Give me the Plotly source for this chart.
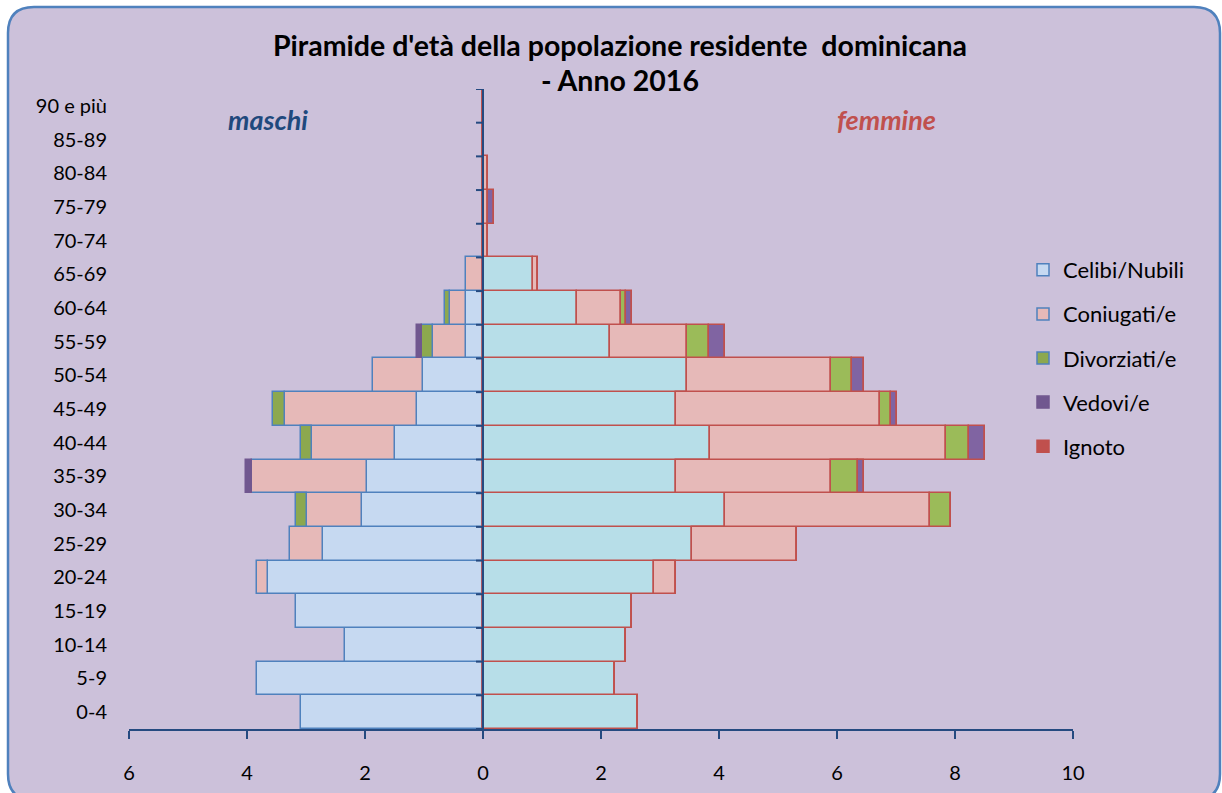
import plotly.graph_objects as go

categories = ["0-4", "5-9", "10-14", "15-19", "20-24", "25-29", "30-34", "35-39",
              "40-44", "45-49", "50-54", "55-59", "60-64", "65-69", "70-74",
              "75-79", "80-84", "85-89", "90 e più"]

# maschi (percent)
m_celibi     = [3.08, 3.83, 2.34, 3.17, 3.65, 2.71, 2.05, 1.97, 1.50, 1.12, 1.02, 0.28, 0.28, 0.00, 0, 0, 0, 0, 0]
m_coniugati  = [0, 0, 0, 0, 0.18, 0.56, 0.94, 1.95, 1.40, 2.24, 0.85, 0.56, 0.28, 0.28, 0, 0, 0, 0, 0]
m_divorziati = [0, 0, 0, 0, 0, 0, 0.18, 0, 0.18, 0.20, 0, 0.19, 0.09, 0, 0, 0, 0, 0, 0]
m_vedovi     = [0, 0, 0, 0, 0, 0, 0, 0.09, 0, 0, 0, 0.09, 0, 0, 0, 0, 0, 0, 0]
m_ignoto     = [0] * 19

# femmine (percent)
f_nubili     = [2.62, 2.24, 2.42, 2.52, 2.89, 3.55, 4.11, 3.27, 3.84, 3.27, 3.46, 2.15, 1.59, 0.84, 0, 0, 0, 0, 0]
f_coniugate  = [0, 0, 0, 0, 0.38, 1.77, 3.47, 2.62, 4.01, 3.46, 2.43, 1.31, 0.75, 0.10, 0.09, 0.09, 0.09, 0, 0]
f_divorziate = [0, 0, 0, 0, 0, 0, 0.36, 0.47, 0.38, 0.18, 0.37, 0.37, 0.08, 0, 0, 0, 0, 0, 0]
f_vedove     = [0, 0, 0, 0, 0, 0, 0, 0.09, 0.28, 0.10, 0.19, 0.28, 0.11, 0, 0, 0.10, 0, 0, 0]
f_ignoto     = [0] * 19

series_names = ["Celibi/Nubili", "Coniugati/e", "Divorziati/e", "Vedovi/e", "Ignoto"]
tick_vals = [-6, -4, -2, 0, 2, 4, 6, 8, 10]
tick_text = ["6", "4", "2", "0", "2", "4", "6", "8", "10"]

FONT = "Lato"
male_fill = ["#C6D9F1", "#E6B9B8", "#8CA84F", "#70578F", "#C0504D"]
male_line = ["#4F81BD", "#4F81BD", "#4F81BD", "#70578F", "#C0504D"]
fem_fill = ["#B7DEE8", "#E6B9B8", "#9BBB59", "#8064A2", "#C0504D"]
fem_line = "#C0504D"

fig = go.Figure()
male_sets = [m_celibi, m_coniugati, m_divorziati, m_vedovi, m_ignoto]
fem_sets = [f_nubili, f_coniugate, f_divorziate, f_vedove, f_ignoto]

for i, (name, vals) in enumerate(zip(series_names, male_sets)):
    fig.add_trace(go.Bar(
        y=categories, x=[-v for v in vals], orientation="h", name=name,
        legendgroup=name, showlegend=True,
        marker=dict(color=male_fill[i], line=dict(color=male_line[i], width=1.5)),
    ))
for i, (name, vals) in enumerate(zip(series_names, fem_sets)):
    fig.add_trace(go.Bar(
        y=categories, x=vals, orientation="h", name=name,
        legendgroup=name, showlegend=False,
        marker=dict(color=fem_fill[i], line=dict(color=fem_line, width=1.5)),
    ))

# plot area in pixels
L, R, T, B = 129, 1073, 89, 729
W, H = R - L, B - T
def px(x): return (x - L) / W
def py(y): return (B - y) / H

# rounded frame
x0, y0, x1, y1, r = 8, 7, 1220, 800, 26
path = (f"M {px(x0+r)},{py(y0)} L {px(x1-r)},{py(y0)} Q {px(x1)},{py(y0)} {px(x1)},{py(y0+r)} "
        f"L {px(x1)},{py(y1-r)} Q {px(x1)},{py(y1)} {px(x1-r)},{py(y1)} "
        f"L {px(x0+r)},{py(y1)} Q {px(x0)},{py(y1)} {px(x0)},{py(y1-r)} "
        f"L {px(x0)},{py(y0+r)} Q {px(x0)},{py(y0)} {px(x0+r)},{py(y0)} Z")
shapes = [dict(type="path", xref="paper", yref="paper", path=path,
               fillcolor="#CCC1DA", line=dict(color="#4F81BD", width=2.5), layer="below")]

axis_col = "#254A80"
# vertical axis at zero with tick marks between categories
shapes.append(dict(type="line", xref="x", yref="paper", x0=0, x1=0, y0=0, y1=1,
                   line=dict(color=axis_col, width=2), layer="above"))
for k in range(len(categories) + 1):
    shapes.append(dict(type="line", xref="x", yref="y", xsizemode="pixel", xanchor=0,
                       x0=-7, x1=0, y0=k - 0.5, y1=k - 0.5,
                       line=dict(color=axis_col, width=2), layer="above"))

annotations = [
    dict(text="<b>Piramide d'età della popolazione residente\u00a0 dominicana</b>", xref="paper", yref="paper",
         x=px(620), y=py(45), xanchor="center", yanchor="middle", showarrow=False,
         font=dict(family=FONT, size=28.5, color="black")),
    dict(text="<b>- Anno 2016</b>", xref="paper", yref="paper",
         x=px(620), y=py(80), xanchor="center", yanchor="middle", showarrow=False,
         font=dict(family=FONT, size=28.5, color="black")),
    dict(text="<b><i>maschi</i></b>", xref="paper", yref="paper", x=px(268), y=py(119),
         xanchor="center", yanchor="middle",
         showarrow=False, font=dict(family=FONT, size=27, color="#1F497D")),
    dict(text="<b><i>femmine</i></b>", xref="paper", yref="paper", x=px(886), y=py(119),
         xanchor="center", yanchor="middle",
         showarrow=False, font=dict(family=FONT, size=27, color="#C0504D")),
]

fig.update_layout(
    width=1222, height=793,
    margin=dict(l=L, r=1222 - R, t=T, b=793 - B),
    paper_bgcolor="white", plot_bgcolor="rgba(0,0,0,0)",
    barmode="relative", bargap=0,
    font=dict(family=FONT, size=20, color="black"),
    shapes=shapes, annotations=annotations,
    legend=dict(x=px(1023), y=py(249), xanchor="left", yanchor="top",
                bgcolor="rgba(0,0,0,0)", font=dict(family=FONT, size=22),
                traceorder="grouped", tracegroupgap=12.5, itemclick=False),
    xaxis=dict(range=[-6, 10], tickvals=tick_vals, ticktext=tick_text,
               showgrid=False, zeroline=False, showline=True, linecolor=axis_col, linewidth=2,
               ticks="outside", ticklen=8, tickwidth=2, tickcolor=axis_col,
               ticklabelstandoff=17, tickfont=dict(size=20), automargin=False),
    yaxis=dict(type="category", categoryorder="array", categoryarray=categories,
               range=[-0.5, len(categories) - 0.5],
               showgrid=False, zeroline=False, showline=False, ticks="",
               ticklabelstandoff=21, tickfont=dict(size=20), automargin=False),
)

fig.write_html("out.html", config={"displayModeBar": False},
               post_script="document.body.style.margin='0';document.body.style.overflow='hidden';")
